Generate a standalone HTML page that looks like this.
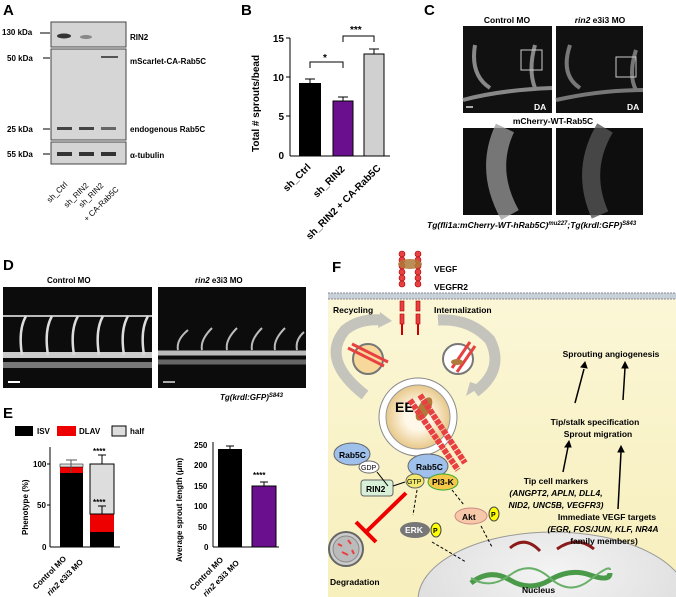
<!DOCTYPE html>
<html><head><meta charset="utf-8"><style>
html,body{margin:0;background:#fff;overflow:hidden;width:676px;height:597px;}
svg{display:block;font-family:"Liberation Sans",sans-serif;}
</style></head><body>
<svg width="676" height="597" viewBox="0 0 676 597" xmlns="http://www.w3.org/2000/svg">
<defs>
<linearGradient id="cellg" x1="0" y1="0" x2="0" y2="1"><stop offset="0" stop-color="#fbf6d6"/><stop offset="1" stop-color="#f7efbc"/></linearGradient>
<radialGradient id="ee" cx="0.5" cy="0.5" r="0.5"><stop offset="0.4" stop-color="#fff8e8"/><stop offset="1" stop-color="#e8c88a"/></radialGradient>
<radialGradient id="nuc" cx="0.5" cy="0.3" r="0.7"><stop offset="0" stop-color="#f4f4f4"/><stop offset="1" stop-color="#d8d8d8"/></radialGradient>
</defs>
<g font-weight="bold" font-size="15" fill="#000">
<text x="3" y="15">A</text><text x="241" y="15">B</text><text x="424" y="15">C</text>
<text x="3" y="270">D</text><text x="3" y="418">E</text><text x="332" y="272">F</text>
</g>
<!-- A blot -->
<g font-size="8" font-weight="bold">
<rect x="51" y="22" width="75" height="25" fill="#d4d4d4" stroke="#444"/>
<rect x="51" y="49" width="75" height="91" fill="#d6d6d6" stroke="#444"/>
<rect x="51" y="142" width="75" height="22" fill="#d4d4d4" stroke="#444"/>
<ellipse cx="64" cy="36" rx="7" ry="2.5" fill="#333"/><ellipse cx="86" cy="37" rx="6" ry="2" fill="#888"/>
<rect x="101" y="56" width="17" height="2" fill="#555"/>
<rect x="57" y="127" width="15" height="3" fill="#444"/><rect x="79" y="127" width="15" height="3" fill="#444"/><rect x="101" y="127" width="15" height="3" fill="#666"/>
<rect x="57" y="152" width="15" height="4" fill="#333"/><rect x="79" y="152" width="15" height="4" fill="#333"/><rect x="101" y="152" width="15" height="4" fill="#333"/>
<text x="2" y="35">130 kDa</text><line x1="40" y1="33" x2="50" y2="33" stroke="#000"/>
<text x="7" y="61">50 kDa</text><line x1="43" y1="58" x2="50" y2="58" stroke="#000"/>
<text x="7" y="132">25 kDa</text><line x1="43" y1="129" x2="50" y2="129" stroke="#000"/>
<text x="7" y="157">55 kDa</text><line x1="43" y1="154" x2="50" y2="154" stroke="#000"/>
<text x="130" y="40">RIN2</text><text x="130" y="64">mScarlet-CA-Rab5C</text>
<text x="130" y="132">endogenous Rab5C</text><text x="130" y="158">α-tubulin</text>
<g font-weight="normal" font-size="8">
<text transform="translate(50,203) rotate(-45)">sh_Ctrl</text>
<text transform="translate(67,208) rotate(-45)">sh_RIN2</text>
<text transform="translate(82,208) rotate(-45)">sh_RIN2</text>
<text transform="translate(87,222) rotate(-45)">+ CA-Rab5C</text>
</g>
</g>
<!-- B chart -->
<g font-size="10" font-weight="bold">
<line x1="290" y1="38" x2="290" y2="156" stroke="#000"/><line x1="290" y1="156" x2="390" y2="156" stroke="#000"/>
<text x="284" y="42" text-anchor="end">15</text><text x="284" y="81" text-anchor="end">10</text><text x="284" y="120" text-anchor="end">5</text><text x="284" y="159" text-anchor="end">0</text>
<line x1="286" y1="38" x2="290" y2="38" stroke="#000"/><line x1="286" y1="77" x2="290" y2="77" stroke="#000"/><line x1="286" y1="116" x2="290" y2="116" stroke="#000"/>
<text transform="translate(259,152) rotate(-90)">Total # sprouts/bead</text>
<rect x="299" y="83" width="22" height="73" fill="#000"/><line x1="310" y1="79" x2="310" y2="83" stroke="#000"/><line x1="305" y1="79" x2="315" y2="79" stroke="#000"/>
<rect x="333" y="101" width="20" height="55" fill="#6a0f8e" stroke="#000"/><line x1="343" y1="97" x2="343" y2="101" stroke="#000"/><line x1="338" y1="97" x2="348" y2="97" stroke="#000"/>
<rect x="364" y="54" width="20" height="102" fill="#d0d0d0" stroke="#000"/><line x1="374" y1="49" x2="374" y2="54" stroke="#000"/><line x1="369" y1="49" x2="379" y2="49" stroke="#000"/>
<path d="M310 68V62H343V68" fill="none" stroke="#000"/><text x="323" y="61">*</text>
<path d="M343 42V36H374V42" fill="none" stroke="#000"/><text x="350" y="33">***</text>
<text transform="translate(287,192) rotate(-45)">sh_Ctrl</text>
<text transform="translate(317,198) rotate(-45)">sh_RIN2</text>
<text transform="translate(310,240) rotate(-45)">sh_RIN2 + CA-Rab5C</text>
</g>
<!-- C -->
<g font-size="8.5" font-weight="bold">
<text x="507" y="23" text-anchor="middle">Control MO</text><text x="600" y="23" text-anchor="middle"><tspan font-style="italic">rin2</tspan> e3i3 MO</text>
<rect x="463" y="26" width="89" height="87" fill="#111"/><rect x="556" y="26" width="87" height="87" fill="#111"/>
<path d="M475 45 Q470 75 490 88 M463 100 Q500 90 552 88 M535 45 Q528 70 535 88" stroke="#888" stroke-width="4" fill="none"/>
<path d="M570 45 Q560 75 580 88 M556 100 Q600 90 643 90 M636 50 Q628 75 636 90" stroke="#777" stroke-width="4" fill="none"/>
<rect x="521" y="50" width="21" height="20" fill="none" stroke="#ccc"/><rect x="616" y="57" width="20" height="20" fill="none" stroke="#ccc"/>
<line x1="466" y1="107" x2="473" y2="107" stroke="#aaa" stroke-width="2"/>
<text x="534" y="110" fill="#fff">DA</text><text x="627" y="110" fill="#fff">DA</text>
<text x="553" y="124" text-anchor="middle">mCherry-WT-Rab5C</text>
<rect x="463" y="128" width="89" height="87" fill="#0e0e0e"/><rect x="556" y="128" width="87" height="87" fill="#0e0e0e"/>
<path d="M505 128 Q485 170 510 215" stroke="#999" stroke-width="20" fill="none" opacity="0.75"/>
<path d="M605 128 Q580 170 600 215" stroke="#555" stroke-width="18" fill="none" opacity="0.8"/>
<text x="427" y="228" font-style="italic">Tg(fli1a:mCherry-WT-hRab5C)<tspan font-size="6" dy="-3">mu227</tspan><tspan dy="3">;Tg(krdl:GFP)</tspan><tspan font-size="6" dy="-3">S843</tspan></text>
</g>
<!-- D -->
<g font-size="8" font-weight="bold">
<text x="47" y="283">Control MO</text><text x="195" y="283"><tspan font-style="italic">rin2</tspan> e3i3 MO</text>
<rect x="3" y="287" width="149" height="101" fill="#0c0c0c"/><rect x="158" y="287" width="148" height="101" fill="#0c0c0c"/>
<path d="M3 316 H152" stroke="#bbb" stroke-width="2"/>
<path d="M3 355 H152" stroke="#ccc" stroke-width="6"/><path d="M3 365 H152" stroke="#777" stroke-width="6"/>
<path d="M26 316 Q18 330 22 355 M52 316 Q44 330 48 355 M78 316 Q70 330 74 355 M103 316 Q95 330 99 355 M128 316 Q120 330 124 355 M148 316 Q140 330 144 355" stroke="#ddd" stroke-width="2.5" fill="none"/>
<path d="M158 353 H306" stroke="#bbb" stroke-width="5"/><path d="M158 362 H306" stroke="#666" stroke-width="5"/>
<path d="M188 330 Q176 340 178 350 M212 328 Q200 340 202 350 M237 328 Q225 340 227 350 M262 328 Q250 340 252 350 M285 328 Q273 340 275 350 M304 332 Q295 340 297 350" stroke="#bbb" stroke-width="2" fill="none"/>
<line x1="8" y1="382" x2="20" y2="382" stroke="#fff" stroke-width="2"/><line x1="163" y1="382" x2="175" y2="382" stroke="#aaa" stroke-width="2"/>
<text x="220" y="400" font-style="italic">Tg(krdl:GFP)<tspan font-size="6" dy="-3">S843</tspan></text>
</g>
<!-- E -->
<g font-size="8" font-weight="bold">
<rect x="15" y="426" width="18" height="10" fill="#000"/><text x="37" y="434">ISV</text>
<rect x="57" y="426" width="19" height="10" fill="#e00"/><text x="79" y="434">DLAV</text>
<rect x="112" y="426" width="14" height="10" fill="#ddd" stroke="#000"/><text x="130" y="434">half</text>
<line x1="50" y1="447" x2="50" y2="547" stroke="#000"/><line x1="50" y1="547" x2="120" y2="547" stroke="#000"/>
<text x="33" y="467">100</text><text x="37" y="508">50</text><text x="42" y="550">0</text>
<line x1="47" y1="464" x2="50" y2="464" stroke="#000"/><line x1="47" y1="505" x2="50" y2="505" stroke="#000"/>
<text transform="translate(28,535) rotate(-90)">Phenotype (%)</text>
<rect x="60" y="472" width="23" height="75" fill="#000"/><rect x="60" y="467" width="23" height="6" fill="#e00"/><rect x="60" y="464" width="23" height="3" fill="#ddd" stroke="#000" stroke-width="0.5"/>
<path d="M71 473V460M66 460H77" stroke="#555"/>
<rect x="90" y="532" width="24" height="15" fill="#000"/><rect x="90" y="514" width="24" height="18" fill="#e00"/><rect x="90" y="464" width="24" height="50" fill="#ddd" stroke="#000"/>
<path d="M102 464V455M98 455H106M102 514V506M98 506H106M102 532V538M98 538H106" stroke="#000"/>
<text x="93" y="454">****</text><text x="93" y="505">****</text>
<text transform="translate(36,590) rotate(-45)">Control MO</text>
<text transform="translate(50,596) rotate(-45)"><tspan font-style="italic">rin2</tspan> e3i3 MO</text>
<line x1="213" y1="442" x2="213" y2="547" stroke="#000"/><line x1="213" y1="547" x2="279" y2="547" stroke="#000"/>
<text x="194" y="448">250</text><text x="194" y="468">200</text><text x="194" y="489">150</text><text x="194" y="509">100</text><text x="198" y="530">50</text><text x="204" y="550">0</text>
<text transform="translate(182,562) rotate(-90)">Average sprout length (μm)</text>
<rect x="218" y="449" width="24" height="98" fill="#000"/><path d="M230 449V446M226 446H234" stroke="#000"/>
<rect x="252" y="486" width="24" height="61" fill="#6a0f8e" stroke="#000"/><path d="M264 486V482M260 482H268" stroke="#000"/>
<text x="253" y="478">****</text>
<text transform="translate(193,591) rotate(-45)">Control MO</text>
<text transform="translate(206,597) rotate(-45)"><tspan font-style="italic">rin2</tspan> e3i3 MO</text>
</g>
<!-- F -->
<g font-size="8.5" font-weight="bold">
<rect x="328" y="297" width="348" height="300" fill="url(#cellg)"/>
<rect x="328" y="293" width="348" height="6" fill="#c8d0d8"/>
<line x1="328" y1="293" x2="676" y2="293" stroke="#889" stroke-dasharray="2,1"/><line x1="328" y1="299" x2="676" y2="299" stroke="#889" stroke-dasharray="2,1"/>
<text x="434" y="272">VEGF</text><text x="434" y="290">VEGFR2</text>
<g fill="#e84040" stroke="#a00" stroke-width="0.6">
<circle cx="402" cy="254" r="3"/><circle cx="402" cy="260" r="3"/><circle cx="402" cy="266" r="3"/><circle cx="402" cy="272" r="3"/><circle cx="402" cy="278" r="3"/><circle cx="402" cy="284" r="3"/>
<circle cx="418" cy="254" r="3"/><circle cx="418" cy="260" r="3"/><circle cx="418" cy="266" r="3"/><circle cx="418" cy="272" r="3"/><circle cx="418" cy="278" r="3"/><circle cx="418" cy="284" r="3"/>
<rect x="400" y="301" width="4" height="10"/><rect x="400" y="314" width="4" height="10"/><rect x="416" y="301" width="4" height="10"/><rect x="416" y="314" width="4" height="10"/>
</g>
<ellipse cx="410" cy="264" rx="12" ry="5" fill="#b07a3a" opacity="0.85"/>
<line x1="402" y1="324" x2="402" y2="335" stroke="#c00" stroke-width="2"/><line x1="418" y1="324" x2="418" y2="335" stroke="#c00" stroke-width="2"/>
<text x="333" y="313">Recycling</text><text x="434" y="313">Internalization</text>
<path d="M365 395 Q320 360 345 330 Q360 318 382 320" stroke="#c4c4bc" stroke-width="11" fill="none"/>
<path d="M380 312 L392 321 L378 328 Z" fill="#c4c4bc"/>
<path d="M438 320 Q470 318 490 340 Q505 370 475 392" stroke="#c4c4bc" stroke-width="11" fill="none"/>
<path d="M482 386 L466 396 L470 382 Z" fill="#c4c4bc"/>
<circle cx="368" cy="359" r="15" fill="#f7d89a" stroke="#777" stroke-width="2"/>
<circle cx="458" cy="359" r="15" fill="#fff" stroke="#777" stroke-width="2"/>
<path d="M348 348 L384 366 M352 344 L388 362" stroke="#e84040" stroke-width="3"/>
<path d="M452 368 L470 342 M457 372 L475 346" stroke="#e84040" stroke-width="3"/>
<ellipse cx="457" cy="362" rx="6" ry="3" fill="#b07a3a"/>
<circle cx="418" cy="417" r="39" fill="#fff" stroke="#888"/>
<circle cx="418" cy="417" r="32" fill="url(#ee)" stroke="#999"/>
<text x="395" y="412" font-size="14">EE</text>
<ellipse cx="424" cy="409" rx="6" ry="13" fill="#b07a3a" transform="rotate(30 424 409)"/>
<path d="M410 400 L458 470 M420 395 L465 463" stroke="#e84040" stroke-width="6" stroke-dasharray="5,1" fill="none"/>
<ellipse cx="352" cy="454" rx="18" ry="11" fill="#9ec0ea" stroke="#666"/><text x="339" y="458">Rab5C</text>
<ellipse cx="369" cy="467" rx="10" ry="6" fill="#fff" stroke="#666"/><text x="361" y="470" font-size="7" font-weight="normal">GDP</text>
<rect x="361" y="480" width="32" height="16" rx="3" fill="#d8efd8" stroke="#666"/><text x="366" y="492">RIN2</text>
<path d="M377 472 L388 486" stroke="#000"/>
<ellipse cx="428" cy="466" rx="20" ry="12" fill="#9ec0ea" stroke="#666"/><text x="416" y="470">Rab5C</text>
<ellipse cx="415" cy="481" rx="9" ry="7" fill="#f2ea70" stroke="#666"/><text x="407" y="484" font-size="7" font-weight="normal">GTP</text>
<ellipse cx="443" cy="482" rx="15" ry="8" fill="#f5c84a" stroke="#3a3"/><text x="432" y="485">PI3-K</text>
<path d="M393 486 L405 482" stroke="#000"/>
<line x1="406" y1="493" x2="367" y2="531" stroke="#e00" stroke-width="4"/><line x1="356" y1="522" x2="376" y2="542" stroke="#e00" stroke-width="4"/>
<circle cx="346" cy="549" r="17" fill="#ccc" stroke="#666" stroke-width="2"/>
<circle cx="346" cy="549" r="13" fill="#bbb" stroke="#888"/>
<path d="M338 544 l4 2 M348 540 l3 4 M342 552 l6 3 M352 550 l2 4" stroke="#e84040" stroke-width="2"/>
<text x="330" y="585">Degradation</text>
<path d="M417 490 L413 515 M452 490 L464 505" stroke="#000" stroke-dasharray="3,2"/>
<ellipse cx="415" cy="530" rx="15" ry="8" fill="#777"/><text x="405" y="533" fill="#fff">ERK</text>
<ellipse cx="436" cy="530" rx="5" ry="7" fill="#ff0" stroke="#444"/><text x="433" y="533" font-size="7">P</text>
<ellipse cx="471" cy="516" rx="16" ry="8" fill="#f7c8a8" stroke="#c88"/><text x="462" y="520">Akt</text>
<ellipse cx="494" cy="514" rx="5" ry="7" fill="#ff0" stroke="#444"/><text x="491" y="517" font-size="7">P</text>
<ellipse cx="553" cy="600" rx="135" ry="68" fill="url(#nuc)" stroke="#999"/>
<path d="M432 542 L466 562 M481 526 L492 547" stroke="#000" stroke-dasharray="3,2"/>
<path d="M471 583 Q490 568 510 580 T550 580 T590 575 T610 573" stroke="#4a9a4a" stroke-width="5" fill="none"/>
<path d="M471 578 Q490 590 510 575 T550 578 T590 580 T610 570" stroke="#6ab06a" stroke-width="2" fill="none"/>
<text x="522" y="593">Nucleus</text>
<path d="M510 548 Q525 535 540 551 M557 549 Q577 535 594 549" stroke="#8b1a1a" stroke-width="3" fill="none"/>
<text x="611" y="357" text-anchor="middle">Sprouting angiogenesis</text>
<text x="595" y="425" text-anchor="middle">Tip/stalk specification</text><text x="598" y="437" text-anchor="middle">Sprout migration</text>
<text x="556" y="484" text-anchor="middle">Tip cell markers</text>
<text x="556" y="496" text-anchor="middle" font-style="italic">(ANGPT2, APLN, DLL4,</text>
<text x="556" y="508" text-anchor="middle" font-style="italic">NID2, UNC5B, VEGFR3)</text>
<text x="607" y="520" text-anchor="middle">Immediate VEGF targets</text>
<text x="603" y="532" text-anchor="middle" font-style="italic">(EGR, FOS/JUN, KLF, NR4A</text>
<text x="604" y="544" text-anchor="middle">family members)</text>
<g stroke="#000" stroke-width="1.5">
<path d="M575 403 L584 369 M623 400 L625 368 M563 472 L568 447 M618 509 L621 452"/>
</g>
<path d="M581 367 L587 368 L585 362 Z M622 368 L628 368 L625 362 Z M565 447 L571 447 L569 441 Z M618 452 L624 452 L621 446 Z" fill="#000" stroke="#000"/>
</g>
</svg>
</body></html>
